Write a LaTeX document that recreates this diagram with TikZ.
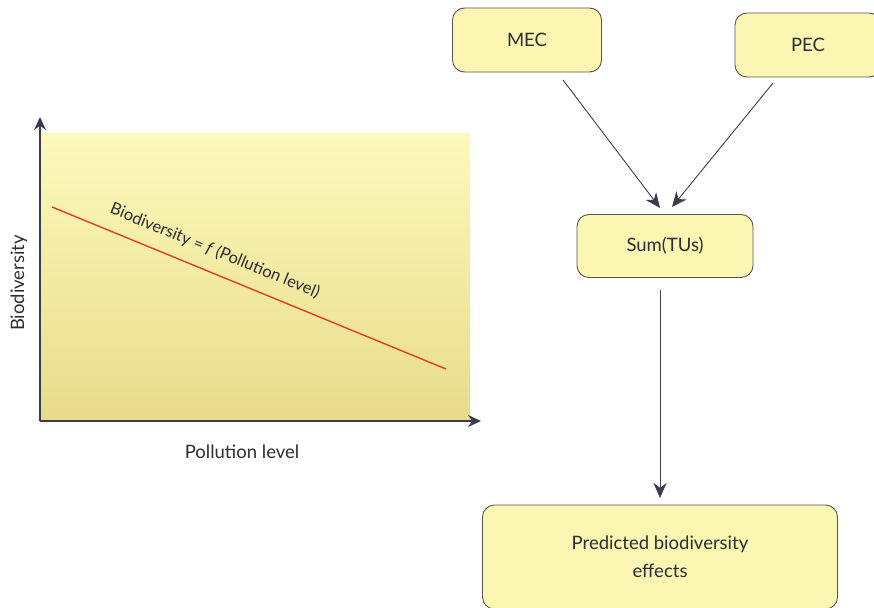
\documentclass[tikz,border=0pt]{standalone}
\usepackage{fontspec}
\setmainfont{Lato}
\usetikzlibrary{arrows.meta}
\definecolor{ink}{RGB}{58,61,78}
\definecolor{txt}{RGB}{45,45,50}
\definecolor{boxfill}{RGB}{251,246,178}
\definecolor{boxline}{RGB}{85,85,85}
\definecolor{plottop}{RGB}{253,249,188}
\definecolor{plotbot}{RGB}{232,220,138}
\definecolor{curve}{RGB}{232,58,42}
\tikzset{
  box/.style={draw=boxline, line width=0.9pt, fill=boxfill, rounded corners=12pt,
    text=txt, font=\fontsize{18.5}{28}\selectfont, align=center, inner sep=0pt},
  flow/.style={draw=ink, line width=0.9pt, -{Stealth[length=15pt,width=13pt]}},
  axis/.style={draw=ink, line width=1.3pt, -{Stealth[length=13pt,width=12pt]}},
  lbl/.style={text=txt, font=\fontsize{18.5}{22}\selectfont, inner sep=0pt}
}
\begin{document}
\begin{tikzpicture}[x=1pt,y=-1pt]
\useasboundingbox (0,0) rectangle (874,607);
\clip (0,0) rectangle (874,607);

% plot panel
\shade[top color=plottop, bottom color=plotbot] (40,133) rectangle (470,421);
\coordinate (O) at (40,421);
\coordinate (ytop) at (40,117);
\coordinate (xend) at (481,421);
\draw[axis] (O) -- (ytop);
\draw[axis] (O) -- (xend);

% decreasing relation
\coordinate (c1) at (52,207);
\coordinate (c2) at (446,369);
\draw[curve, line width=1.4pt] (c1) -- (c2);
\node[lbl, rotate=-22.3, font=\fontsize{16.5}{20}\selectfont] (rel) at (215,251)
  {Biodiversity = \textit{f} (Pollution level)};

\node[lbl, rotate=90] (ylab) at (19,283) {Biodiversity};
\node[lbl] (xlab) at (242,452) {Pollution level};

% flow chart
\node[box, minimum width=149pt, minimum height=64pt] (mec) at (527,40) {MEC};
\node[box, minimum width=146pt, minimum height=64pt] (pec) at (808,45) {PEC};
\node[box, minimum width=176pt, minimum height=63pt] (sum) at (665,246) {Sum(TUs)};
\node[box, minimum width=355pt, minimum height=104pt] (pred) at (660,557)
  {Predicted biodiversity\\effects};

\coordinate (m1) at (563,80);
\coordinate (m2) at (660,208);
\coordinate (p1) at (773,83);
\coordinate (p2) at (672,207);
\coordinate (s1) at (660,290);
\coordinate (s2) at (660,498);
\draw[flow] (m1) -- (m2);
\draw[flow] (p1) -- (p2);
\draw[flow] (s1) -- (s2);
\end{tikzpicture}
\end{document}
